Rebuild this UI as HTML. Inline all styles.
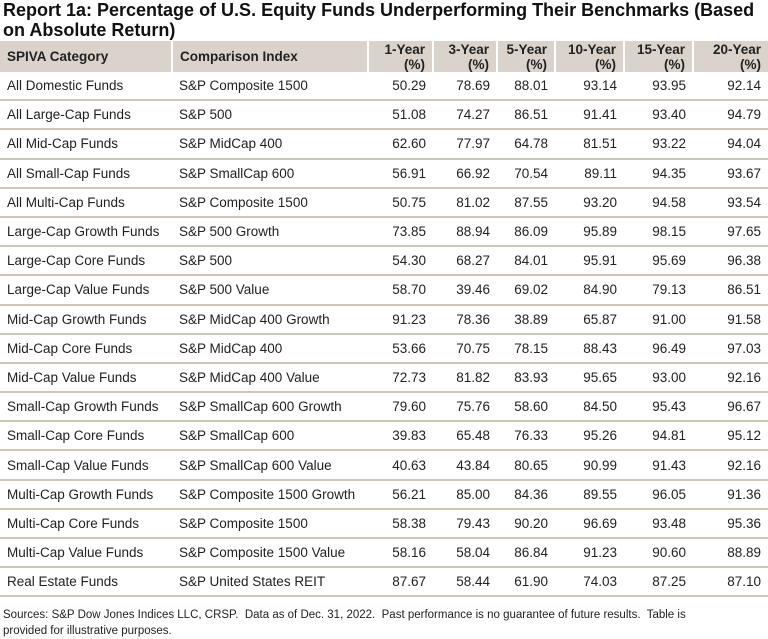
<!DOCTYPE html>
<html><head><meta charset="utf-8"><style>
body{margin:0;width:768px;height:639px;background:#fff;font-family:"Liberation Sans",sans-serif;color:#222;position:relative;overflow:hidden}
h1{position:absolute;left:3px;top:0;margin:0;font-size:18px;line-height:20px;font-weight:bold;width:765px;color:#111;white-space:nowrap}
table{position:absolute;left:0;top:41px;width:768px;border-collapse:collapse;table-layout:fixed;font-size:13.5px}
th{background:#d9d3cb;font-weight:bold;height:31px;padding:0 7px;border-left:2px solid #fff;line-height:15px;font-size:13.5px}
th:first-child{border-left:none}
td{height:27.2px;padding:0 7px;border-bottom:2px solid #cfc6bb;white-space:nowrap}
.l{text-align:left}.r{text-align:right}
.foot{position:absolute;left:3px;top:607px;font-size:11.5px;line-height:16px;width:760px;color:#222}
</style></head><body>
<h1>Report 1a: Percentage of U.S. Equity Funds Underperforming Their Benchmarks (Based<br>on Absolute Return)</h1>
<table>
<colgroup><col style="width:172px"><col style="width:196px"><col style="width:65px"><col style="width:64px"><col style="width:58px"><col style="width:69px"><col style="width:69px"><col style="width:75px"></colgroup>
<thead><tr>
<th class="l">SPIVA Category</th><th class="l">Comparison Index</th><th class="r">1-Year<br>(%)</th><th class="r">3-Year<br>(%)</th><th class="r">5-Year<br>(%)</th><th class="r">10-Year<br>(%)</th><th class="r">15-Year<br>(%)</th><th class="r">20-Year<br>(%)</th>
</tr></thead>
<tbody id="tb"></tbody></table>
<div class="foot">Sources: S&amp;P Dow Jones Indices LLC, CRSP.&nbsp; Data as of Dec. 31, 2022.&nbsp; Past performance is no guarantee of future results.&nbsp; Table is<br>provided for illustrative purposes.</div>
<script>
const categories=["All Domestic Funds","All Large-Cap Funds","All Mid-Cap Funds","All Small-Cap Funds","All Multi-Cap Funds","Large-Cap Growth Funds","Large-Cap Core Funds","Large-Cap Value Funds","Mid-Cap Growth Funds","Mid-Cap Core Funds","Mid-Cap Value Funds","Small-Cap Growth Funds","Small-Cap Core Funds","Small-Cap Value Funds","Multi-Cap Growth Funds","Multi-Cap Core Funds","Multi-Cap Value Funds","Real Estate Funds"];
const indices=["S&P Composite 1500","S&P 500","S&P MidCap 400","S&P SmallCap 600","S&P Composite 1500","S&P 500 Growth","S&P 500","S&P 500 Value","S&P MidCap 400 Growth","S&P MidCap 400","S&P MidCap 400 Value","S&P SmallCap 600 Growth","S&P SmallCap 600","S&P SmallCap 600 Value","S&P Composite 1500 Growth","S&P Composite 1500","S&P Composite 1500 Value","S&P United States REIT"];
const y1=["50.29","51.08","62.60","56.91","50.75","73.85","54.30","58.70","91.23","53.66","72.73","79.60","39.83","40.63","56.21","58.38","58.16","87.67"];
const y3=["78.69","74.27","77.97","66.92","81.02","88.94","68.27","39.46","78.36","70.75","81.82","75.76","65.48","43.84","85.00","79.43","58.04","58.44"];
const y5=["88.01","86.51","64.78","70.54","87.55","86.09","84.01","69.02","38.89","78.15","83.93","58.60","76.33","80.65","84.36","90.20","86.84","61.90"];
const y10=["93.14","91.41","81.51","89.11","93.20","95.89","95.91","84.90","65.87","88.43","95.65","84.50","95.26","90.99","89.55","96.69","91.23","74.03"];
const y15=["93.95","93.40","93.22","94.35","94.58","98.15","95.69","79.13","91.00","96.49","93.00","95.43","94.81","91.43","96.05","93.48","90.60","87.25"];
const y20=["92.14","94.79","94.04","93.67","93.54","97.65","96.38","86.51","91.58","97.03","92.16","96.67","95.12","92.16","91.36","95.36","88.89","87.10"];
const tb=document.getElementById('tb');
categories.forEach((c,i)=>{
 const tr=document.createElement('tr');
 
 
 [c,indices[i],y1[i],y3[i],y5[i],y10[i],y15[i],y20[i]].forEach((v,j)=>{
  const td=document.createElement('td');
  td.className=j<2?'l':'r';
  td.textContent=v;
  tr.appendChild(td);
 });
 tb.appendChild(tr);
});
</script>
</body></html>
